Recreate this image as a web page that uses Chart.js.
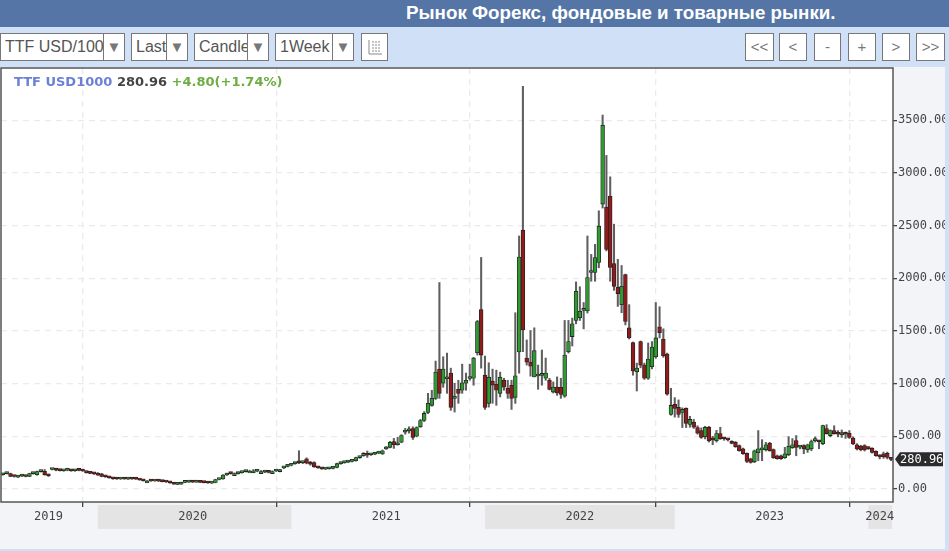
<!DOCTYPE html>
<html>
<head>
<meta charset="utf-8">
<title>TTF USD1000</title>
<script src="https://cdn.jsdelivr.net/npm/chart.js@4"></script>
<style>
  html, body { margin: 0; padding: 0; background: #cfe0f7; overflow: hidden; }
  #page { position: relative; width: 949px; height: 551px; overflow: hidden; font-family: "Liberation Sans", sans-serif; }
  #head { position: absolute; left: 0; top: 0; width: 949px; height: 27px; background: #5575a6; }
  #head span { position: absolute; left: 406px; top: 0; line-height: 25px; font-size: 18.8px; font-weight: bold; color: #fff; white-space: nowrap; }
  #bar { position: absolute; left: 0; top: 27px; width: 949px; height: 40px; background: #cfe0f7; }
  .box { position: absolute; top: 33px; height: 26px; border: 1px solid #777; background: #fff; color: #555; font-size: 16px; line-height: 26px; overflow: hidden; white-space: nowrap; box-sizing: content-box; }
  .box .txt { position: absolute; left: 4px; top: 0; overflow: hidden; }
  .box .arr { position: absolute; right: 0; top: 0; width: 20px; height: 26px; border-left: 1px solid #777; background: #fff; text-align: center; font-size: 15px; color: #777; }
  .btn { text-align: center; color: #777; font-size: 15px; }
  #chartWrap { position: absolute; left: 0; top: 0; width: 945px; height: 549px; }
  #info { position: absolute; left: 14px; top: 74px; font: bold 13px "DejaVu Sans", sans-serif; white-space: pre; }
</style>
</head>
<body>
<div id="page">
  <div id="chartWrap"><canvas id="chart" width="945" height="549"></canvas></div>
  <div id="head"><span>Рынок Форекс, фондовые и товарные рынки.</span></div>
  <div id="bar"></div>

  <div class="box" style="left:0;width:123px"><span class="txt" style="width:99px">TTF USD/1000</span><span class="arr">▼</span></div>
  <div class="box" style="left:131px;width:55px"><span class="txt" style="width:31px">Last</span><span class="arr">▼</span></div>
  <div class="box" style="left:194px;width:73px"><span class="txt" style="width:49px">Candle</span><span class="arr">▼</span></div>
  <div class="box" style="left:275px;width:77px"><span class="txt" style="width:53px">1Week</span><span class="arr">▼</span></div>
  <div class="box btn" style="left:361px;width:25px">
    <svg width="25" height="26" viewBox="0 0 25 26" style="display:block">
      <path d="M7 6V20H20M10 8H12M13 8H15M16 8H18M10 11H12M13 11H15M16 11H18M10 14H12M13 14H15M16 14H18M10 17H12M13 17H15M16 17H18" fill="none" stroke="#888" stroke-width="1"/>
    </svg>
  </div>

  <div class="box btn" style="left:745px;width:27px">&lt;&lt;</div>
  <div class="box btn" style="left:779px;width:26px">&lt;</div>
  <div class="box btn" style="left:814px;width:25px">-</div>
  <div class="box btn" style="left:848px;width:26px">+</div>
  <div class="box btn" style="left:882px;width:26px">&gt;</div>
  <div class="box btn" style="left:916px;width:27px">&gt;&gt;</div>

  <div id="info"><span style="color:#6a80d8">TTF USD1000</span> <span style="color:#444">280.96</span> <span style="color:#6cae42">+4.80(+1.74%)</span></div>
</div>

<script>
// weekly candles, one entry per week
const opens = [
  135,146,146,120,112,122,122,120,146,135,
  165,168,135,185,182,178,172,178,176,172,
  178,178,166,152,146,150,143,120,112,100,
  95,94,95,93,95,94,90,80,76,76,
  75,75,72,68,60,52,44,45,62,65,
  66,64,65,62,58,55,62,90,95,132,
  146,146,145,155,165,170,172,168,165,160,
  160,165,170,165,200,215,225,240,250,250,
  287,240,250,205,196,188,192,195,204,240,
  250,255,262,268,298,315,335,325,330,340,
  332,380,395,450,420,443,540,552,574,500,
  590,650,727,794,860,1138,1004,1046,1100,860,
  946,937,1004,1049,1051,1293,1702,1080,813,1023,
  994,908,1032,956,985,870,1300,2457,1243,1204,
  1064,1072,1078,1051,1032,920,968,965,880,1303,
  1447,1600,1625,1695,1690,2055,2055,2150,2705,2677,
  2782,2141,1915,1750,2036,1530,1389,1112,1399,1176,
  1051,1160,1255,1539,1424,1281,707,803,774,727,
  765,612,634,583,554,497,586,470,459,526,
  480,470,452,443,411,382,337,287,258,344,
  371,373,433,373,315,315,296,325,392,459,
  397,411,373,382,459,452,430,574,507,554,
  525,515,525,528,484,420,404,411,388,385,
  358,308,334,337,293
];
const highs = [
  150,152,150,124,126,130,126,150,152,170,
  178,185,140,195,188,182,180,186,180,178,
  186,182,170,158,150,155,148,124,116,104,
  98,98,98,97,98,97,93,82,80,79,
  79,78,75,71,63,55,50,64,68,70,
  69,70,68,65,62,60,92,98,136,150,
  152,153,155,162,172,178,185,178,175,170,
  166,172,178,186,212,224,235,252,363,262,
  295,262,258,212,200,194,198,204,245,250,
  258,264,272,302,308,345,360,335,340,350,
  370,402,452,480,490,515,575,590,590,590,
  660,735,908,937,1214,1960,1255,1290,1147,1004,
  1032,1185,1100,1185,1250,1600,2198,1262,1198,1138,
  1128,1109,1051,1032,1032,1673,2402,3824,1415,1504,
  1530,1176,1319,1243,1050,1016,1064,1051,1600,1600,
  1622,1966,1920,1770,2402,2227,2323,2641,3550,3167,
  2964,2514,2180,2122,2040,1750,1395,1195,1405,1195,
  1386,1399,1770,1730,1520,1290,956,867,845,770,
  770,690,660,600,580,595,595,500,556,586,
  490,478,458,450,418,388,342,292,370,554,
  468,443,443,380,322,322,395,497,478,507,
  412,420,425,465,495,456,606,610,560,600,
  554,560,540,554,495,430,415,420,400,392,
  362,325,350,350,300
];
const lows = [
  130,142,116,112,108,118,114,116,140,130,
  160,130,118,180,172,170,168,172,168,168,
  172,166,150,144,138,128,115,110,102,92,
  90,90,91,90,91,90,82,74,73,72,
  72,71,67,62,54,43,40,43,59,62,
  61,61,60,57,53,52,58,86,92,128,
  141,142,141,150,160,165,167,163,160,155,
  152,158,165,162,192,208,218,234,240,240,
  238,225,205,196,186,184,188,190,200,234,
  244,250,256,264,290,310,300,318,325,334,
  328,375,390,385,415,438,520,530,470,495,
  585,640,715,785,850,860,965,908,746,730,
  813,908,937,1032,985,1271,1147,755,777,813,
  794,873,937,860,755,813,1099,1303,1176,1071,
  1064,946,985,1032,940,911,889,860,870,1290,
  1357,1568,1600,1520,1670,1972,1972,2100,2667,2260,
  1972,1886,1733,1673,1558,1424,1080,930,1150,1040,
  1040,1140,1240,1434,1250,890,700,682,680,583,
  583,586,575,520,480,475,445,420,445,470,
  462,455,428,395,358,328,250,245,250,268,
  268,360,358,290,282,280,290,315,385,315,
  380,334,347,363,445,382,420,520,495,520,
  495,490,480,480,420,370,362,360,375,340,
  310,285,290,285,268
];
const closes = [
  146,147,120,118,122,124,118,146,148,165,
  170,135,125,188,178,174,175,180,172,175,
  176,170,155,148,143,130,118,115,105,96,
  94,95,94,95,94,93,85,78,76,75,
  76,74,70,66,58,45,46,62,65,66,
  64,66,63,60,56,56,90,92,132,148,
  145,146,148,157,166,170,172,170,165,162,
  158,165,172,182,205,218,228,246,248,252,
  245,235,210,200,190,190,194,200,240,245,
  252,260,268,298,300,337,320,328,335,345,
  363,395,443,420,425,507,550,556,490,582,
  650,717,813,860,1109,908,1138,1051,774,880,
  908,1007,1032,1053,1243,1590,1271,774,1061,985,
  937,1061,966,908,860,1074,2202,1510,1204,1166,
  1313,1076,1082,1100,946,968,911,898,1271,1399,
  1568,1877,1686,1705,2007,2062,2198,2495,3454,2275,
  2103,1924,1855,1924,1590,1434,1121,1147,1176,1051,
  1233,1348,1434,1485,1265,899,793,765,707,755,
  621,660,586,529,490,586,459,466,526,478,
  476,466,433,401,363,334,261,251,363,382,
  375,420,363,296,287,287,334,404,420,395,
  402,380,420,449,465,448,602,526,554,526,
  520,518,520,490,427,380,373,370,383,347,
  315,304,306,299,280.96
];

const yTicks = [0, 500, 1000, 1500, 2000, 2500, 3000, 3500];
const yearLabels = ["2019", "2020", "2021", "2022", "2023", "2024"];
const yearLabelWeeks = [12, 50, 101, 152, 202, 231];
const yearLineWeeks = [21, 72, 123, 172, 223];
const yearBands = [[25, 76], [127, 177], [228, 235]];
const lastPrice = 280.96;

const weeks = opens.map((_, i) => i);
const wicks = lows.map((l, i) => [l, highs[i]]);
const bodies = opens.map((o, i) => [o, closes[i]]);
const bodyColors = opens.map((o, i) => closes[i] >= o ? "#2f9a31" : "#8f1b1b");

const MONO = '"DejaVu Sans Mono", monospace';

// fondo blanco, bandas de los años, marco y etiqueta del precio
const extras = {
  id: "extras",
  beforeDraw(chart) {
    const { ctx, chartArea: a, scales } = chart;
    ctx.save();
    ctx.fillStyle = "#f2f4f8";
    ctx.fillRect(0, 0, chart.width, chart.height);
    ctx.fillStyle = "#fff";
    ctx.fillRect(a.left, a.top, a.right - a.left, a.bottom - a.top);
    ctx.fillStyle = "#e4e4e4";
    for (const [from, to] of yearBands) {
      const x1 = scales.x.getPixelForValue(from);
      const x2 = Math.min(scales.x.getPixelForValue(to), a.right - 1);
      ctx.fillRect(x1, a.bottom + 3, x2 - x1, 24);
    }
    ctx.restore();
  },
  afterDraw(chart) {
    const { ctx, chartArea: a, scales } = chart;
    ctx.save();
    ctx.strokeStyle = "#555";
    ctx.lineWidth = 1.5;
    ctx.strokeRect(a.left, a.top, a.right - a.left, a.bottom - a.top);

    const y = scales.y.getPixelForValue(lastPrice);
    ctx.fillStyle = "#2b2b2b";
    ctx.beginPath();
    ctx.moveTo(895, y);
    ctx.lineTo(900, y - 7);
    ctx.lineTo(943, y - 7);
    ctx.lineTo(943, y + 7);
    ctx.lineTo(900, y + 7);
    ctx.closePath();
    ctx.fill();
    ctx.fillStyle = "#fff";
    ctx.font = "12px " + MONO;
    ctx.textBaseline = "middle";
    ctx.fillText(lastPrice.toFixed(2), 900, y + 0.5);
    ctx.restore();
  }
};

new Chart(document.getElementById("chart"), {
  type: "bar",
  plugins: [extras],
  data: {
    labels: weeks,
    datasets: [
      {
        label: "TTF USD1000",
        data: bodies,
        backgroundColor: bodyColors,
        borderColor: "#222",
        borderWidth: 0.8,
        borderSkipped: false,
        barThickness: 3.8,
        minBarLength: 2,
        order: 1
      },
      {
        label: "wick",
        data: wicks,
        backgroundColor: "#5f5f5f",
        borderWidth: 0,
        barThickness: 1.4,
        order: 2
      }
    ]
  },
  options: {
    responsive: false,
    animation: false,
    layout: { padding: { left: 1, top: 68, right: 0, bottom: 0 } },
    datasets: { bar: { grouped: false } },
    plugins: { legend: { display: false }, tooltip: { enabled: false } },
    scales: {
      x: {
        type: "category",
        offset: true,
        border: { display: false, dash: [6, 5] },
        grid: {
          offset: false,
          color: c => c.tick && yearLineWeeks.includes(c.tick.value) ? "#ebebeb" : "transparent",
          tickColor: c => c.tick && yearLineWeeks.includes(c.tick.value) ? "#444" : "transparent",
          tickBorderDash: [],
          tickLength: 5,
          lineWidth: 1.3
        },
        afterBuildTicks: axis => {
          axis.ticks = [...yearLineWeeks, ...yearLabelWeeks].map(v => ({ value: v }));
        },
        afterFit: axis => { axis.height = 47; },
        ticks: {
          autoSkip: false,
          maxRotation: 0,
          padding: 3,
          color: "#444",
          font: { family: MONO, size: 12 },
          callback: v => {
            const k = yearLabelWeeks.indexOf(v);
            return k >= 0 ? yearLabels[k] : "";
          }
        }
      },
      y: {
        position: "right",
        min: -124,
        max: 3997,
        border: { display: false, dash: [6, 5] },
        grid: { color: "#ebebeb", lineWidth: 1.3, tickColor: "#444", tickBorderDash: [], tickLength: 4 },
        afterBuildTicks: axis => { axis.ticks = yTicks.map(v => ({ value: v })); },
        afterFit: axis => { axis.width = 52; },
        ticks: {
          padding: 1,
          color: "#444",
          font: { family: MONO, size: 12 },
          callback: v => v.toFixed(2)
        }
      }
    }
  }
});
</script>
</body>
</html>
